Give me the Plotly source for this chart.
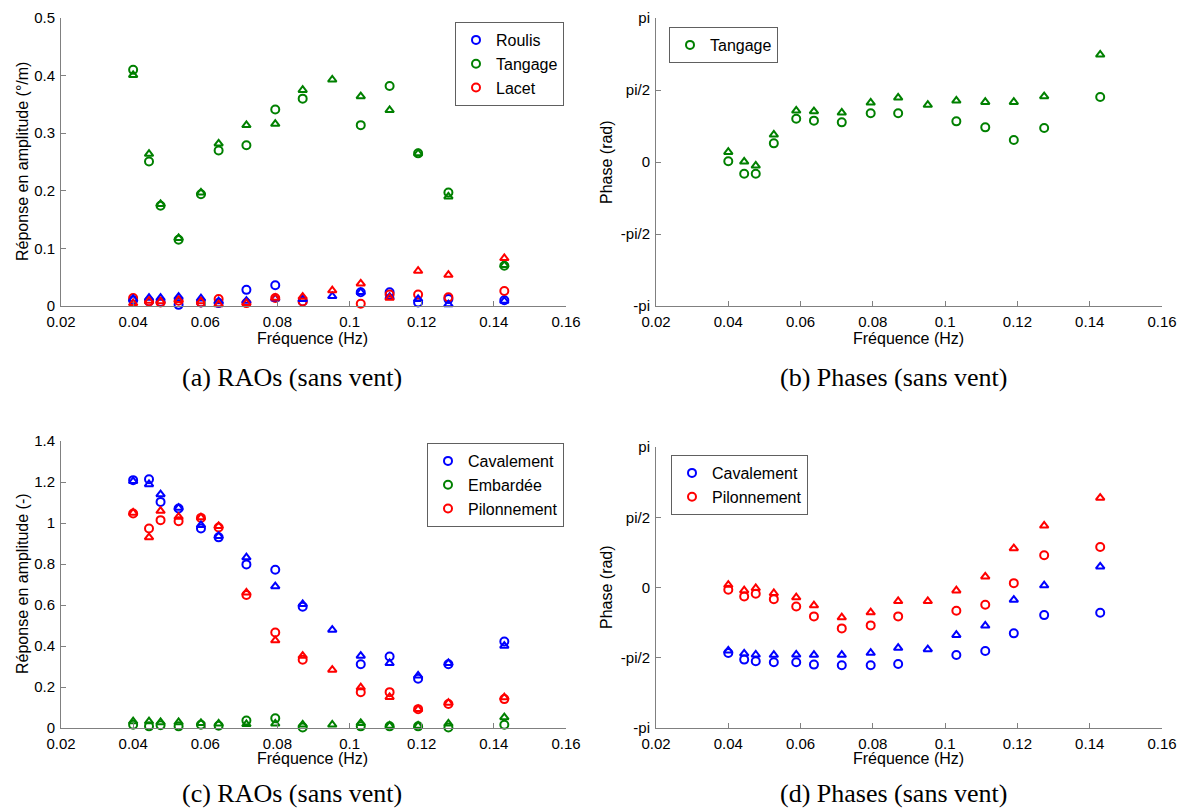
import math
import plotly.graph_objects as go

# ---------------- data ----------------
freq = [0.0400, 0.0444, 0.0476, 0.0526, 0.0588, 0.0637, 0.0714, 0.0794,
        0.0870, 0.0952, 0.1031, 0.1111, 0.1190, 0.1274, 0.1429]

# (a) RAOs rotations, circles / triangles
roulis_o = [0.010, 0.008, 0.007, 0.002, 0.006, 0.005, 0.028, 0.036, 0.008, None, 0.024, 0.024, 0.006, 0.012, 0.010]
roulis_t = [0.012, 0.014, 0.014, 0.016, 0.013, 0.008, 0.009, 0.013, 0.012, 0.017, 0.024, 0.016, 0.012, 0.003, 0.009]
tangage_o = [0.410, 0.251, 0.174, 0.115, 0.194, 0.270, 0.279, 0.341, 0.360, None, 0.314, 0.382, 0.265, 0.197, 0.070]
tangage_t = [0.401, 0.264, 0.177, 0.118, 0.197, 0.282, 0.314, 0.316, 0.375, 0.393, 0.364, 0.340, 0.265, 0.190, 0.071]
lacet_o = [0.014, 0.008, 0.006, 0.009, 0.006, 0.012, 0.005, 0.014, 0.008, None, 0.004, 0.020, 0.020, 0.015, 0.026]
lacet_t = [0.005, 0.009, 0.008, 0.010, 0.008, 0.003, 0.005, 0.014, 0.016, 0.027, 0.039, 0.014, 0.061, 0.054, 0.083]

# (b) Phases tangage (rad)
ph_tangage_o = [0.015, -0.255, -0.255, 0.407, 0.945, 0.902, 0.865, 1.062, 1.062, None, 0.887, 0.756, 0.480, 0.742, 1.418]
ph_tangage_t = [0.218, 0.007, -0.080, 0.596, 1.120, 1.105, 1.076, 1.295, 1.404, 1.244, 1.338, 1.309, 1.309, 1.433, 2.342]

# (c) RAOs translations
cav_o = [1.209, 1.213, 1.103, 1.071, 0.973, 0.930, 0.798, 0.772, 0.592, None, 0.311, 0.349, 0.240, 0.311, 0.422]
cav_t = [1.204, 1.189, 1.140, 1.074, 0.990, 0.936, 0.832, 0.691, 0.604, 0.479, 0.352, 0.316, 0.255, 0.316, 0.401]
emb_o = [0.016, 0.008, 0.013, 0.008, 0.016, 0.011, 0.036, 0.047, 0.003, None, 0.008, 0.008, 0.008, 0.003, 0.016]
emb_t = [0.032, 0.032, 0.028, 0.028, 0.024, 0.021, 0.019, 0.021, 0.016, 0.016, 0.024, 0.011, 0.011, 0.021, 0.052]
pil_o = [1.046, 0.973, 1.014, 1.009, 1.025, 0.978, 0.649, 0.466, 0.333, None, 0.174, 0.175, 0.092, 0.117, 0.141]
pil_t = [1.050, 0.930, 1.059, 1.030, 1.027, 0.985, 0.660, 0.427, 0.352, 0.284, 0.198, 0.151, 0.092, 0.122, 0.149]

# (d) Phases translations (rad)
ph_cav_o = [-1.464, -1.612, -1.649, -1.672, -1.672, -1.724, -1.738, -1.738, -1.709, None, -1.508, -1.419, -1.025, -0.617, -0.565]
ph_cav_t = [-1.412, -1.478, -1.501, -1.508, -1.501, -1.508, -1.508, -1.464, -1.352, -1.382, -1.062, -0.854, -0.275, 0.045, 0.468]
ph_pil_o = [-0.052, -0.201, -0.141, -0.260, -0.423, -0.646, -0.914, -0.847, -0.646, None, -0.520, -0.386, 0.097, 0.721, 0.906]
ph_pil_t = [0.059, -0.067, -0.015, -0.126, -0.223, -0.401, -0.669, -0.557, -0.305, -0.305, -0.067, 0.245, 0.877, 1.382, 2.006]

x_ticks = [0.02, 0.04, 0.06, 0.08, 0.10, 0.12, 0.14, 0.16]
x_ticktext = ["0.02", "0.04", "0.06", "0.08", "0.1", "0.12", "0.14", "0.16"]
phase_ticks = [-math.pi, -math.pi / 2, 0, math.pi / 2, math.pi]
phase_ticktext = ["-pi", "-pi/2", "0", "pi/2", "pi"]

x_title = "Fréquence (Hz)"
y_titles = ["Réponse en amplitude (°/m)", "Phase (rad)",
            "Réponse en amplitude (-)", "Phase (rad)"]
captions = ["(a) RAOs (sans vent)", "(b) Phases (sans vent)",
            "(c) RAOs (sans vent)", "(d) Phases (sans vent)"]

BLUE, GREEN, RED = "#0000FF", "#008000", "#FF0000"
W, H = 1192, 809

fig = go.Figure()


def add(xa, ya, y, name, color, symbol, legend, showlegend):
    fig.add_trace(go.Scatter(
        x=freq, y=y, mode="markers", name=name,
        xaxis=xa, yaxis=ya, legend=legend, showlegend=showlegend,
        cliponaxis=False,
        marker=dict(symbol=symbol, size=8 if symbol == "circle-open" else 7.5,
                    color=color, line=dict(color=color, width=2)),
    ))


# panel (a)
add("x", "y", roulis_o, "Roulis", BLUE, "circle-open", "legend", True)
add("x", "y", tangage_o, "Tangage", GREEN, "circle-open", "legend", True)
add("x", "y", lacet_o, "Lacet", RED, "circle-open", "legend", True)
add("x", "y", roulis_t, "Roulis", BLUE, "triangle-up-open", "legend", False)
add("x", "y", tangage_t, "Tangage", GREEN, "triangle-up-open", "legend", False)
add("x", "y", lacet_t, "Lacet", RED, "triangle-up-open", "legend", False)
# panel (b)
add("x2", "y2", ph_tangage_o, "Tangage", GREEN, "circle-open", "legend2", True)
add("x2", "y2", ph_tangage_t, "Tangage", GREEN, "triangle-up-open", "legend2", False)
# panel (c)
add("x3", "y3", cav_o, "Cavalement", BLUE, "circle-open", "legend3", True)
add("x3", "y3", emb_o, "Embardée", GREEN, "circle-open", "legend3", True)
add("x3", "y3", pil_o, "Pilonnement", RED, "circle-open", "legend3", True)
add("x3", "y3", cav_t, "Cavalement", BLUE, "triangle-up-open", "legend3", False)
add("x3", "y3", emb_t, "Embardée", GREEN, "triangle-up-open", "legend3", False)
add("x3", "y3", pil_t, "Pilonnement", RED, "triangle-up-open", "legend3", False)
# panel (d)
add("x4", "y4", ph_cav_o, "Cavalement", BLUE, "circle-open", "legend4", True)
add("x4", "y4", ph_pil_o, "Pilonnement", RED, "circle-open", "legend4", True)
add("x4", "y4", ph_cav_t, "Cavalement", BLUE, "triangle-up-open", "legend4", False)
add("x4", "y4", ph_pil_t, "Pilonnement", RED, "triangle-up-open", "legend4", False)

SANS = "Liberation Sans"
AX = dict(showline=True, linecolor="#808080", linewidth=1, mirror=False,
          ticks="inside", ticklen=5, tickcolor="#808080", showgrid=False,
          zeroline=False, automargin=False, ticklabelstandoff=2,
          tickfont=dict(family=SANS, size=15, color="black"))


def px_x(a, b):
    return [a / W, b / W]


def px_y(top, bottom):
    return [1 - bottom / H, 1 - top / H]


xl = px_x(61, 566)
xr = px_x(656, 1162)
yt = px_y(18, 306)
yb = px_y(441, 728)
yb2 = px_y(447, 728)

xaxis_common = dict(AX, range=[0.02, 0.16], tickvals=x_ticks, ticktext=x_ticktext)

fig.update_layout(
    width=W, height=H, margin=dict(l=0, r=0, t=0, b=0, autoexpand=False),
    paper_bgcolor="white", plot_bgcolor="white",
    font=dict(family=SANS, size=15, color="black"),
    xaxis=dict(xaxis_common, domain=xl, anchor="y"),
    yaxis=dict(AX, domain=yt, anchor="x", range=[0, 0.5], dtick=0.1, tick0=0),
    xaxis2=dict(xaxis_common, domain=xr, anchor="y2"),
    yaxis2=dict(AX, domain=yt, anchor="x2", range=[-math.pi, math.pi],
                tickvals=phase_ticks, ticktext=phase_ticktext),
    xaxis3=dict(xaxis_common, domain=xl, anchor="y3"),
    yaxis3=dict(AX, domain=yb, anchor="x3", range=[0, 1.4], dtick=0.2, tick0=0),
    xaxis4=dict(xaxis_common, domain=xr, anchor="y4"),
    yaxis4=dict(AX, domain=yb2, anchor="x4", range=[-math.pi, math.pi],
                tickvals=phase_ticks, ticktext=phase_ticktext),
)

LEG = dict(bgcolor="white", bordercolor="#606060", borderwidth=1,
           font=dict(family=SANS, size=16, color="black"),
           yanchor="top", itemwidth=30, tracegroupgap=0)
fig.update_layout(
    legend=dict(LEG, x=564 / W, xanchor="right", y=1 - 22 / H),
    legend2=dict(LEG, x=669 / W, xanchor="left", y=1 - 27 / H),
    legend3=dict(LEG, x=564 / W, xanchor="right", y=1 - 443 / H),
    legend4=dict(LEG, x=671 / W, xanchor="left", y=1 - 455 / H),
)


def ann(text, cx, cy, size, family, angle=0):
    fig.add_annotation(text=text, x=cx / W, y=1 - cy / H, xref="paper", yref="paper",
                       showarrow=False, xanchor="center", yanchor="middle",
                       textangle=angle, borderpad=0,
                       font=dict(family=family, size=size, color="black"))


# axis titles
for cx, cy in [(312, 338), (908, 338), (312, 758), (908, 758)]:
    ann(x_title, cx, cy, 16, SANS)
for text, (cx, cy) in zip(y_titles, [(22, 162), (606, 162), (22, 584), (606, 587)]):
    ann(text, cx, cy, 16, SANS, angle=-90)

# captions
SERIF = "Liberation Serif"
ann(captions[0], 292, 378, 26, SERIF)
ann(captions[1], 893, 378, 26, SERIF)
ann(captions[2], 292, 793, 26, SERIF)
ann(captions[3], 893, 793, 26, SERIF)

# remove the browser's default body margin so the figure sits at the page origin
fig.write_html("out.html",
               config={"displayModeBar": False},
               post_script="document.body.style.margin='0';document.body.style.overflow='hidden';")
